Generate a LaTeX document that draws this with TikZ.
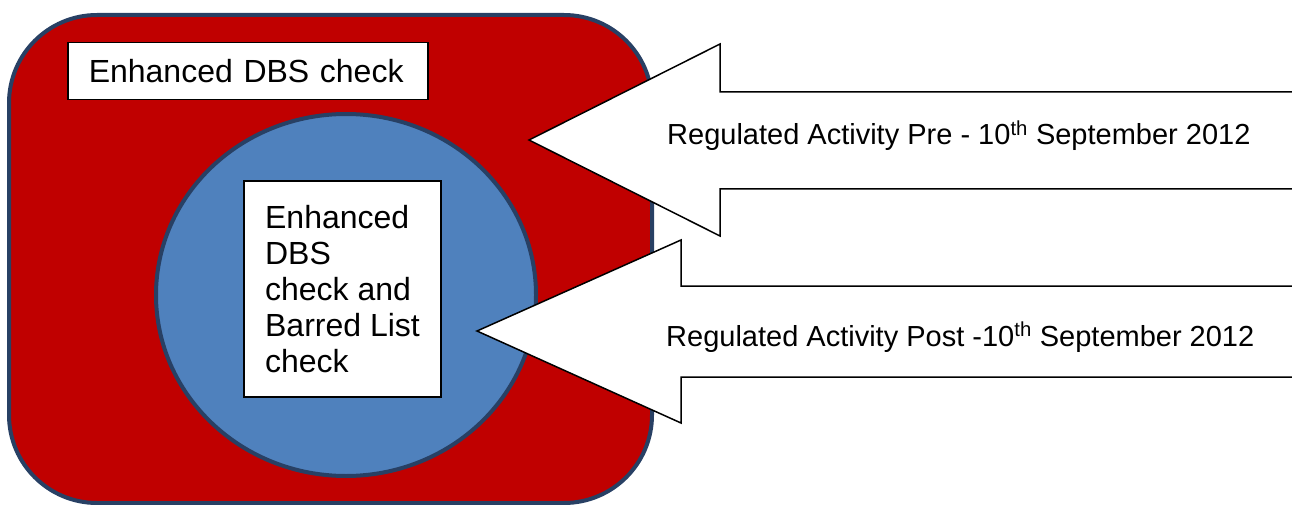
\documentclass[tikz,border=0pt]{standalone}
\usepackage{fontspec}
\setmainfont{Liberation Sans}
\definecolor{checkred}{RGB}{192,0,0}
\definecolor{checkblue}{RGB}{79,129,189}
\definecolor{rimblue}{RGB}{40,64,100}
\tikzset{
	textbox/.style = {draw, fill=white, line width=1.5pt, inner xsep=21pt, align=left,
		font=\fontsize{32pt}{36pt}\selectfont},
	bigarrow/.style = {fill=white, draw=black, line width=1.5pt, line join=miter}
}

\begin{document}
\begin{tikzpicture}[x=1pt, y=-1pt]
	\useasboundingbox (0,0) rectangle (1292,505);
	\filldraw[fill=checkred, draw=rimblue, line width=4pt, rounded corners=88pt] (9,15) rectangle (652,503);
	\filldraw[fill=checkblue, draw=rimblue, line width=4pt] (346,295) ellipse (190 and 181);
	\node[textbox, text width=318pt, minimum height=57pt, anchor=west] (enhanced) at (67,71) {Enhanced DBS check};
	\node[textbox, minimum width=197pt, minimum height=216pt] (barred) at (342.5,289) {Enhanced\\DBS\\check and\\Barred List\\check};
	\filldraw[bigarrow] (1292,92) -- (720,92) -- (720,44) -- (529,140) -- (720,236) -- (720,189) -- (1292,189);
	\filldraw[bigarrow] (1292,286) -- (681,286) -- (681,240) -- (477,331) -- (681,423) -- (681,377) -- (1292,377);
	\node[anchor=base west, inner sep=0pt, font=\fontsize{29pt}{33pt}\selectfont] (pre) at (667,145) {Regulated Activity Pre - 10\textsuperscript{th} September 2012};
	\node[anchor=base west, inner sep=0pt, font=\fontsize{29pt}{33pt}\selectfont] (post) at (666,346) {Regulated Activity Post -10\textsuperscript{th} September 2012};
\end{tikzpicture}
\end{document}
